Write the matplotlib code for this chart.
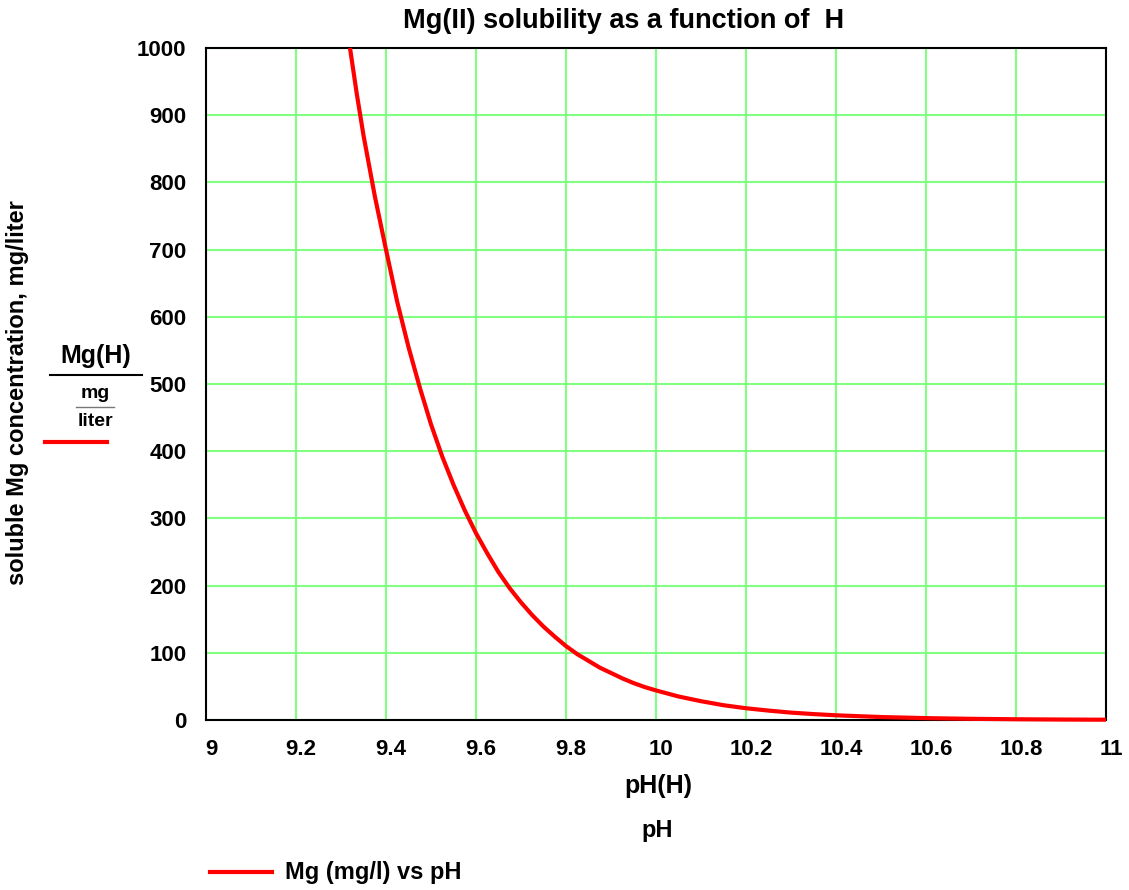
import matplotlib.pyplot as plt
import matplotlib.transforms as mtransforms
from matplotlib.lines import Line2D

plt.rcParams['font.family'] = ['Liberation Sans', 'DejaVu Sans']
plt.rcParams['font.weight'] = 'bold'

# valores
ph = [9.32, 9.335, 9.35, 9.375, 9.40, 9.425, 9.45, 9.475, 9.50, 9.525, 9.55, 9.575,
      9.60, 9.625, 9.65, 9.675, 9.70, 9.725, 9.75, 9.775, 9.80, 9.825,
      9.85, 9.875, 9.90, 9.925, 9.95, 9.975, 10.00, 10.05, 10.10, 10.15,
      10.20, 10.25, 10.30, 10.35, 10.40, 10.50, 10.60, 10.70, 10.80, 10.90, 11.00]
mg = [1000, 932, 870, 780, 700, 622, 555, 495, 440, 392, 350, 312,
      278, 248, 220, 196, 175, 156, 139, 124, 110, 98,
      88, 78, 70, 62, 55, 49, 44, 35, 28, 22,
      17.5, 14, 11, 8.8, 7, 4.4, 2.8, 1.75, 1.1, 0.7, 0.44]

xticks = [9, 9.2, 9.4, 9.6, 9.8, 10, 10.2, 10.4, 10.6, 10.8, 11]
xlabels = ['9', '9.2', '9.4', '9.6', '9.8', '10', '10.2', '10.4', '10.6', '10.8', '11']
yticks = [0, 100, 200, 300, 400, 500, 600, 700, 800, 900, 1000]

fig = plt.figure(figsize=(11.29, 8.9), dpi=100)
ax = fig.add_axes([206 / 1129, 1 - 720 / 890, 900 / 1129, 672 / 890])

ax.plot(ph, mg, color='red', lw=3, solid_capstyle='butt', solid_joinstyle='round',
        clip_on=False, zorder=3)

ax.set_xlim(9, 11)
ax.set_ylim(0, 1000)
ax.set_xticks(xticks)
ax.set_xticklabels(xlabels)
ax.set_yticks(yticks)
ax.grid(True, color='#80ff80', lw=1.5)
ax.tick_params(length=0, labelsize=16, pad=14)
for lab in ax.get_xticklabels():
    lab.set_transform(lab.get_transform() + mtransforms.ScaledTranslation(5 / 100, 0, fig.dpi_scale_trans))
for sp in ax.spines.values():
    sp.set_linewidth(1.5)
    sp.set_color('black')

fig.text(624 / 1129, 1 - 21 / 890, 'Mg(II) solubility as a function of  H', ha='center', va='center',
         fontsize=19.5, fontweight='bold')

# rotulos do eixo y
fig.text(18 / 1129, 1 - 393 / 890, 'soluble Mg concentration, mg/liter', rotation=90,
         ha='center', va='center', fontsize=17, fontweight='bold')
fig.text(96 / 1129, 1 - 356 / 890, 'Mg(H)', ha='center', va='center', fontsize=18, fontweight='bold')
fig.add_artist(Line2D([50 / 1129, 142 / 1129], [1 - 375 / 890, 1 - 375 / 890], color='black', lw=1.5))
fig.text(95 / 1129, 1 - 393 / 890, 'mg', ha='center', va='center', fontsize=14, fontweight='bold')
fig.add_artist(Line2D([76 / 1129, 114 / 1129], [1 - 407 / 890, 1 - 407 / 890], color='#777777', lw=1))
fig.text(95 / 1129, 1 - 422 / 890, 'liter', ha='center', va='center', fontsize=14, fontweight='bold')
fig.add_artist(Line2D([45 / 1129, 107 / 1129], [1 - 442 / 890, 1 - 442 / 890], color='red', lw=3))

# rotulos do eixo x
fig.text(658 / 1129, 1 - 786 / 890, 'pH(H)', ha='center', va='center', fontsize=18, fontweight='bold')
fig.text(657 / 1129, 1 - 830 / 890, 'pH', ha='center', va='center', fontsize=17, fontweight='bold')

# legenda
fig.add_artist(Line2D([210 / 1129, 272 / 1129], [1 - 872 / 890, 1 - 872 / 890], color='red', lw=3))
fig.text(285 / 1129, 1 - 872 / 890, 'Mg (mg/l) vs pH', ha='left', va='center', fontsize=17, fontweight='bold')

plt.savefig('out.png', dpi=100)
